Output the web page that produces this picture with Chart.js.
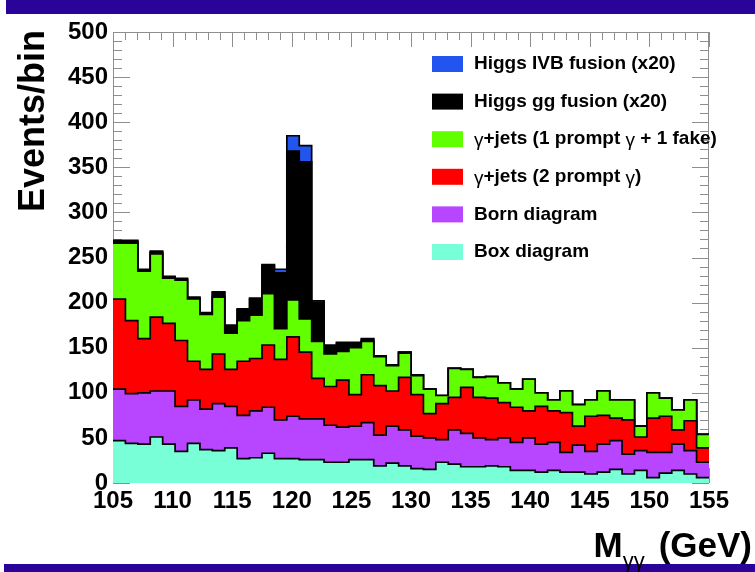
<!DOCTYPE html>
<html>
<head>
<meta charset="utf-8">
<script src="https://cdn.jsdelivr.net/npm/chart.js@4.4.1/dist/chart.umd.min.js"></script>
<style>
  html, body { margin: 0; padding: 0; background: #fff; }
  canvas { display: block; }
</style>
</head>
<body>
<canvas id="mgg" width="755" height="572"></canvas>
<script>
// Diphoton invariant mass spectrum: 48 equal bins between 105 and 155 GeV,
// stacked backgrounds with the Higgs signal (scaled x20) on top
const massMin = 105;
const massMax = 155;
const nBins = 48;

const boxDiagram   = [47,44,43,51,43,35,44,37,36,39, 27,28,33,27,27,26,26,23,23,26,
                      26,19,22,19,16,15,23,21,18,18, 19,18,14,14,12,14,12,12,10,12,
                      15,10,14, 6,11,14,10,6];
const bornDiagram  = [57,55,57,51,59,50,48,45,52,46, 48,52,51,43,47,45,45,41,39,37,
                      41,34,41,40,36,35,25,38,37,32, 29,32,31,36,31,31,22,30,25,31,
                      32,22,22, 28,23,29,26,17];
const gjTwoPrompt  = [100,81,60,82,75,73,43,44,55,41, 60,58,69,67,88,74,45,43,52,35,
                      53,55,39,58,46,27,40,36,51,45, 46,39,39,30,42,35,44,21,39,32,
                      25,38,15, 38,40,16,33,16];
const gjOneFake    = [62,86,75,70,50,67,69,61,63,40, 45,48,57,34,41,37,41,36,32,52,
                      37,32,28,27,21,27,9,32,20,22, 24,22,20,35,15,12,24,24,18,27,
                      20,22,12, 28,20,22,23,15];
const higgsGG      = [2,2,1,2,1,1,1,1,5,8, 12,18,31,62,165,174,43,9,9,5,
                      2,1,1,1,1,0,0,0,0,0, 0,0,0,0,0,0,0,0,0,0,
                      0,0,0,0,0,0,0,0];
const higgsIVB     = [1,1,1,1,1,1,1,1,1,1, 1,1,1,4,17,18,2,1,1,1,
                      1,0,0,0,0,0,0,0,0,0, 0,0,0,0,0,0,0,0,0,0,
                      0,0,0,0,0,0,0,0];

const xTickValues = [105,110,115,120,125,130,135,140,145,150,155];
const yTickStep = 50;

const FAMILY = '"Liberation Sans", Arial, Helvetica, sans-serif';

// stacking order: bottom first
const series = [
  { label: 'Box diagram',                  values: boxDiagram,  color: '#78ffd8' },
  { label: 'Born diagram',                 values: bornDiagram, color: '#b845ff' },
  { label: 'γ+jets (2 prompt γ)',          values: gjTwoPrompt, color: '#ff0000' },
  { label: 'γ+jets (1 prompt γ + 1 fake)', values: gjOneFake,   color: '#62ff00' },
  { label: 'Higgs gg fusion (x20)',        values: higgsGG,     color: '#000000' },
  { label: 'Higgs IVB fusion (x20)',       values: higgsIVB,    color: '#2254ee' }
];

// lower bin edges
const binWidth = (massMax - massMin) / nBins;
const binEdges = Array.from({ length: nBins }, (_, i) => massMin + i * binWidth);

// histogram contour: each value is held from its lower edge to the next edge
function stepPoints(values) {
  const pts = binEdges.map((x, i) => ({ x: x, y: values[i] }));
  pts.push({ x: massMax, y: values[values.length - 1] });
  return pts;
}

const pagePlugin = {
  id: 'page',
  beforeDraw(chart) {
    const { ctx, width, height } = chart;
    ctx.save();
    ctx.fillStyle = '#ffffff';
    ctx.fillRect(0, 0, width, height);
    ctx.fillStyle = '#2a0399';
    ctx.fillRect(6, 0, width - 6, 14);
    ctx.fillRect(4, 564, width - 4, height - 564);
    ctx.restore();
  },
  beforeDatasetsDraw(chart) {
    // frame with inward ticks on all four sides
    const { ctx, chartArea: a, scales: { x, y } } = chart;
    ctx.save();
    ctx.strokeStyle = '#8e8e8e';
    ctx.lineWidth = 1;
    ctx.strokeRect(a.left + 0.5, a.top + 0.5, a.width - 1, a.height - 1);
    ctx.beginPath();
    for (let v = x.min; v <= x.max; v += 1) {
      const px = Math.round(x.getPixelForValue(v)) + 0.5;
      const len = (v % 5 === 0) ? 15 : 8;
      ctx.moveTo(px, a.top); ctx.lineTo(px, a.top + len);
      ctx.moveTo(px, a.bottom); ctx.lineTo(px, a.bottom - len);
    }
    for (let v = y.min; v <= y.max; v += 10) {
      const py = Math.round(y.getPixelForValue(v)) + 0.5;
      const len = (v % 50 === 0) ? 17 : 9;
      ctx.moveTo(a.left, py); ctx.lineTo(a.left + len, py);
      ctx.moveTo(a.right, py); ctx.lineTo(a.right - len, py);
    }
    ctx.stroke();
    ctx.restore();
  },
  afterDraw(chart) {
    const { ctx } = chart;
    ctx.save();
    ctx.fillStyle = '#000';

    // y title, aligned to the top of the axis
    ctx.save();
    ctx.translate(44, 30);
    ctx.rotate(-Math.PI / 2);
    ctx.font = 'bold 36px ' + FAMILY;
    ctx.textAlign = 'right';
    ctx.textBaseline = 'alphabetic';
    ctx.fillText('Events/bin', 0, 0);
    ctx.restore();

    // x title  M_γγ (GeV), aligned to the right
    ctx.textBaseline = 'alphabetic';
    ctx.textAlign = 'left';
    const base = 557;
    const big = 'bold 35px ' + FAMILY;
    const small = '22px ' + FAMILY;
    ctx.font = big;
    const unit = '(GeV)';
    const wUnit = ctx.measureText(unit).width;
    const wM = ctx.measureText('M').width;
    const gap = 14;
    ctx.font = small;
    const sub = 'γγ';
    const wSub = ctx.measureText(sub).width;
    const xs = 752 - wUnit - gap - wSub - wM;
    ctx.font = big;
    ctx.fillText('M', xs, base);
    ctx.font = small;
    ctx.fillText(sub, xs + wM, base + 11);
    ctx.font = big;
    ctx.fillText(unit, xs + wM + wSub + gap, base);

    // legend, top entry = top of the stack
    const entries = chart.data.datasets.slice().reverse();
    ctx.textBaseline = 'middle';
    entries.forEach((ds, i) => {
      const cy = 64 + i * 37.6;
      ctx.fillStyle = ds.backgroundColor;
      ctx.fillRect(432, cy - 8, 31, 16);
      ctx.fillStyle = '#000';
      let tx = 474;
      ds.label.split(/(γ)/).forEach(part => {
        if (!part) return;
        ctx.font = (part === 'γ' ? '19px ' : 'bold 19px ') + FAMILY;
        ctx.fillText(part, tx, cy + (part === 'γ' ? 2 : 0));
        tx += ctx.measureText(part).width;
      });
    });
    ctx.restore();
  }
};

new Chart(document.getElementById('mgg'), {
  type: 'line',
  data: {
    datasets: series.map((s, i) => ({
      label: s.label,
      data: stepPoints(s.values),
      backgroundColor: s.color,
      borderColor: '#000000',
      borderWidth: 1.7,
      fill: i === 0 ? 'origin' : '-1',
      stepped: 'before',
      pointRadius: 0,
      tension: 0
    }))
  },
  options: {
    responsive: false,
    animation: false,
    devicePixelRatio: 1,
    layout: { padding: { top: 32, right: 46, left: 0, bottom: 0 } },
    plugins: { legend: { display: false }, tooltip: { enabled: false } },
    scales: {
      x: {
        type: 'linear',
        min: massMin, max: massMax,
        afterFit(scale) { scale.height = 89; },
        afterBuildTicks(scale) { scale.ticks = xTickValues.map(v => ({ value: v })); },
        ticks: {
          font: { family: FAMILY, size: 24, weight: 'bold' },
          color: '#000', padding: 4, maxRotation: 0, autoSkip: false
        },
        grid: { display: false, drawTicks: false },
        border: { display: false }
      },
      y: {
        type: 'linear',
        stacked: true,
        min: 0, max: 500,
        afterFit(scale) { scale.width = 113; },
        ticks: {
          stepSize: yTickStep,
          font: { family: FAMILY, size: 24, weight: 'bold' },
          color: '#000', padding: 5
        },
        grid: { display: false, drawTicks: false },
        border: { display: false }
      }
    }
  },
  plugins: [pagePlugin]
});
</script>
</body>
</html>
